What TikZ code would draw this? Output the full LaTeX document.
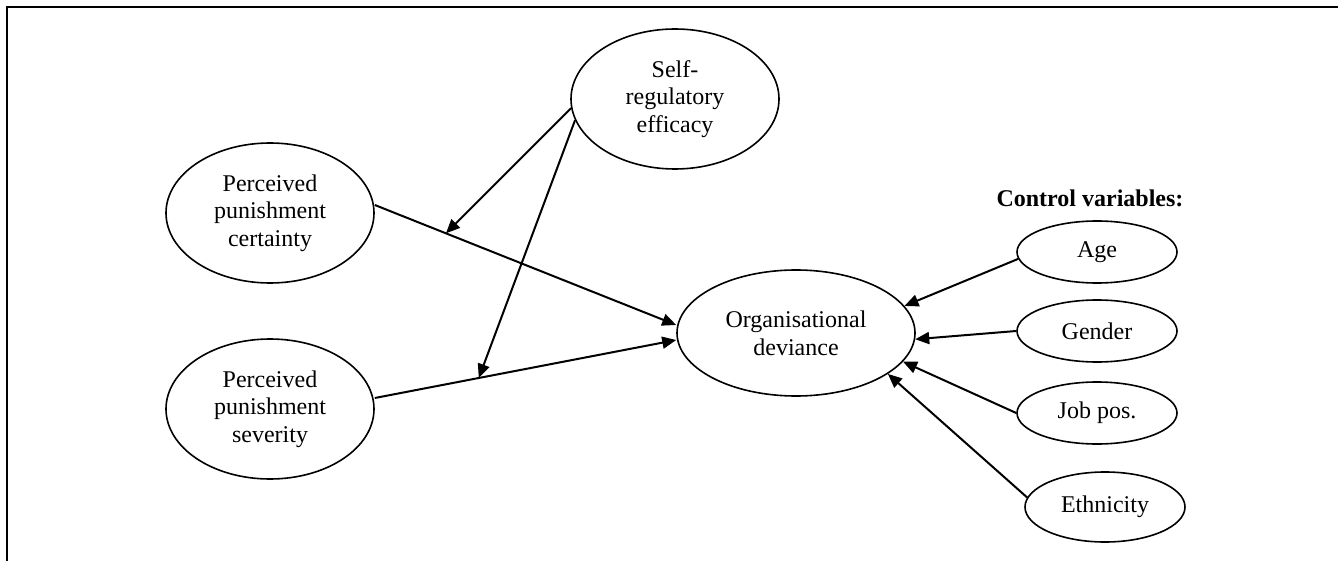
\documentclass[tikz,border=0pt]{standalone}
\usepackage{fontspec}
\setmainfont{Liberation Serif}
\usetikzlibrary{shapes.geometric,arrows.meta}
\begin{document}
\begin{tikzpicture}[x=0.5pt,y=-0.5pt,construct/.style={ellipse, draw, line width=0.8pt, minimum width=104pt, minimum height=70pt, inner sep=0pt, align=center, font=\fontsize{12}{13.8}\selectfont},control/.style={ellipse, draw, line width=0.8pt, minimum width=80pt, minimum height=31pt, inner sep=0pt, font=\fontsize{12}{13.8}\selectfont},link/.style={line width=1pt, -{Triangle[length=7pt,width=6pt]}},title/.style={font=\bfseries\fontsize{12}{14}\selectfont}]
\useasboundingbox (0,0) rectangle (1338,561);
\draw[line width=1.1pt] (1338,7) -- (7,7) -- (7,561);
% constructs
\node[construct] (self) at (675,99) {Self-\\regulatory\\efficacy};
\node[construct] (cert) at (270,213) {Perceived\\punishment\\certainty};
\node[construct] (sev) at (270,409) {Perceived\\punishment\\severity};
\node[construct, minimum width=119pt, minimum height=63pt] (org) at (796,333) {Organisational\\deviance};
% control variables
\node[title] (ctrl) at (1090,198) {Control variables:};
\node[control] (age) at (1097,252) {Age}; \node[control] (gender) at (1097,331) {Gender};
\node[control] (job) at (1097,413) {Job pos.}; \node[control, minimum height=35pt] (eth) at (1105,507) {Ethnicity};
% main and moderating paths
\draw[link] ([yshift=4pt]cert.east) -- coordinate[pos=0.236] (m1) ([yshift=4pt]org.west);
\draw[link] ([yshift=5.5pt]sev.east) -- coordinate[pos=0.345] (m2) ([yshift=-3.5pt]org.west);
\draw[link] (self.185) -- (m1); \draw[link] (self.192) -- (m2);
% control paths
\draw[link] (age.185) -- (org.14); \draw[link] (gender.west) -- (org.357);
\draw[link] (job.west) -- (org.345); \draw[link] (eth.173) -- (org.336);
\end{tikzpicture}
\end{document}
